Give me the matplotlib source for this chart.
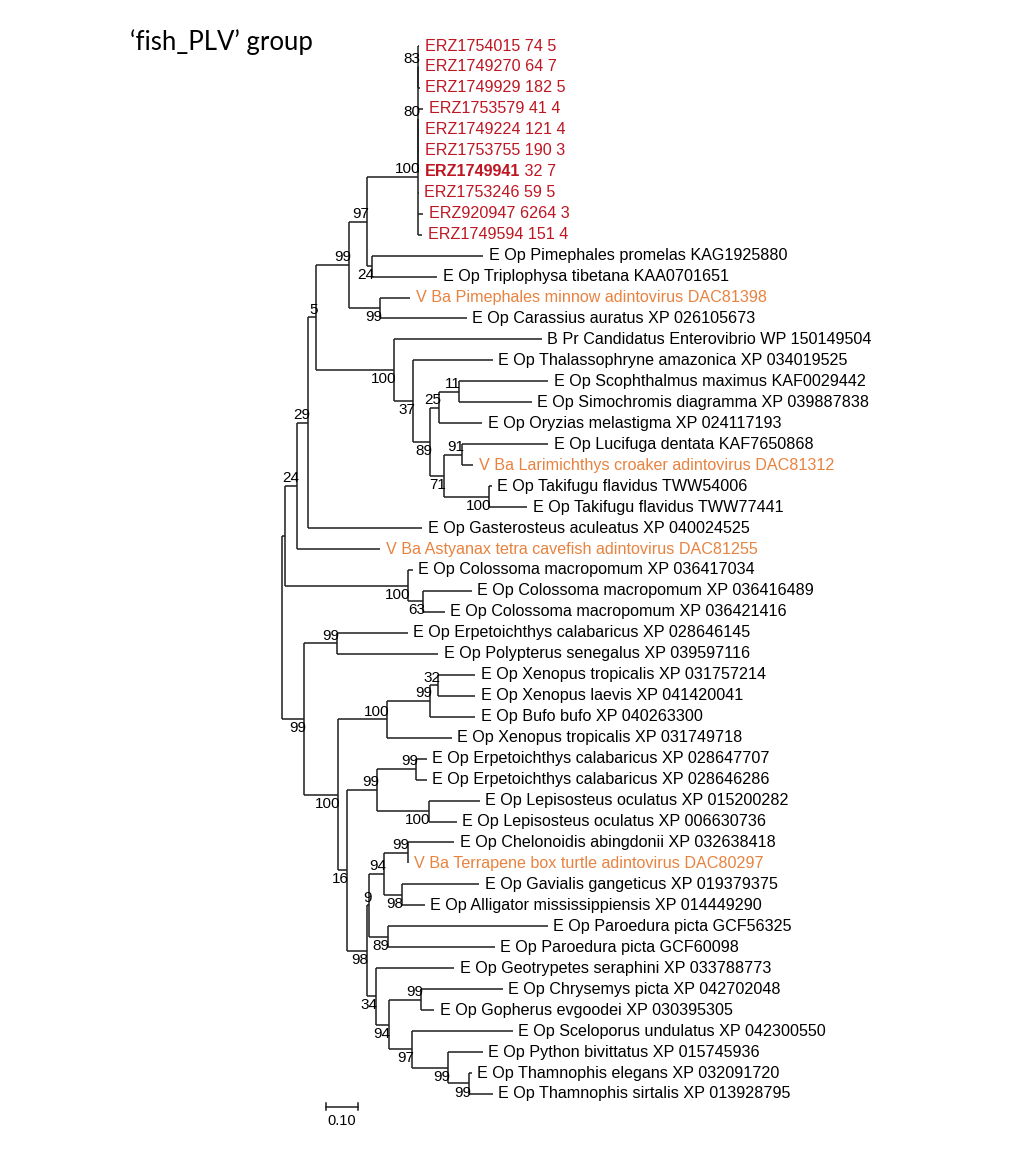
import matplotlib
matplotlib.use("Agg")
import matplotlib.pyplot as plt

# leaf labels, top to bottom (index = leaf id used in the newick pieces below)
taxa = [
    "ERZ1754015 74 5", "ERZ1749270 64 7", "ERZ1749929 182 5", "ERZ1753579 41 4",
    "ERZ1749224 121 4", "ERZ1753755 190 3", "ERZ1749941 32 7", "ERZ1753246 59 5",
    "ERZ920947 6264 3", "ERZ1749594 151 4",
    "E Op Pimephales promelas KAG1925880", "E Op Triplophysa tibetana KAA0701651",
    "V Ba Pimephales minnow adintovirus DAC81398", "E Op Carassius auratus XP 026105673",
    "B Pr Candidatus Enterovibrio WP 150149504", "E Op Thalassophryne amazonica XP 034019525",
    "E Op Scophthalmus maximus KAF0029442", "E Op Simochromis diagramma XP 039887838",
    "E Op Oryzias melastigma XP 024117193", "E Op Lucifuga dentata KAF7650868",
    "V Ba Larimichthys croaker adintovirus DAC81312", "E Op Takifugu flavidus TWW54006",
    "E Op Takifugu flavidus TWW77441", "E Op Gasterosteus aculeatus XP 040024525",
    "V Ba Astyanax tetra cavefish adintovirus DAC81255", "E Op Colossoma macropomum XP 036417034",
    "E Op Colossoma macropomum XP 036416489", "E Op Colossoma macropomum XP 036421416",
    "E Op Erpetoichthys calabaricus XP 028646145", "E Op Polypterus senegalus XP 039597116",
    "E Op Xenopus tropicalis XP 031757214", "E Op Xenopus laevis XP 041420041",
    "E Op Bufo bufo XP 040263300", "E Op Xenopus tropicalis XP 031749718",
    "E Op Erpetoichthys calabaricus XP 028647707", "E Op Erpetoichthys calabaricus XP 028646286",
    "E Op Lepisosteus oculatus XP 015200282", "E Op Lepisosteus oculatus XP 006630736",
    "E Op Chelonoidis abingdonii XP 032638418", "V Ba Terrapene box turtle adintovirus DAC80297",
    "E Op Gavialis gangeticus XP 019379375", "E Op Alligator mississippiensis XP 014449290",
    "E Op Paroedura picta GCF56325", "E Op Paroedura picta GCF60098",
    "E Op Geotrypetes seraphini XP 033788773", "E Op Chrysemys picta XP 042702048",
    "E Op Gopherus evgoodei XP 030395305", "E Op Sceloporus undulatus XP 042300550",
    "E Op Python bivittatus XP 015745936", "E Op Thamnophis elegans XP 032091720",
    "E Op Thamnophis sirtalis XP 013928795",
]
highlight = 6          # ERZ1749941, id part in bold
scale_len = 0.10

# tree in newick pieces (leaf ids, branch lengths, bootstrap as node name)
erz = "(((0:0.003,1:0.003,2:0.006)83:0,3:0.016,4:0.003,5:0.003,6:0.003)80:0,7:0.002,8:0.016,9:0.014)100:0.161"
pime = "(10:0.350,11:0.205)24:0.016"
minnow = "(12:0.095,13:0.274)99:0.098"
n97 = "(" + erz + "," + pime + ")97:0.057"
n99a = "(" + n97 + "," + minnow + ")99:0.104"
n11 = "(16:0.281,17:0.230)11:0.063"
n25 = "(" + n11 + ",18:0.136)25:0.028"
n91 = "(19:0.271,20:0.035)91:0.057"
fugu = "(21:0.009,22:0.120)100:0.142"
n71 = "(" + n91 + "," + fugu + ")71:0.044"
n89 = "(" + n25 + "," + n71 + ")89:0.054"
n37 = "(15:0.252," + n89 + ")37:0.060"
bpr = "(14:0.467," + n37 + ")100:0.246"
n5 = "(" + n99a + "," + bpr + ")5:0.025"
n29 = "(" + n5 + ",23:0.360)29:0.035"
n24 = "(" + n29 + ",24:0.262)24:0.038"
colossoma = "(25:0.016,(26:0.155,27:0.069)63:0.047)100:0.388"
upper = "(" + n24 + "," + colossoma + "):0.009"

polyp = "(28:0.224,29:0.319)99:0.104"
n32 = "(30:0.117,31:0.117)32:0.025"
frogs = "((" + n32 + ",32:0.142)99:0.136,33:0.205)100:0.155"
erp = "(34:0.035,35:0.035)99:0.123"
lep = "(36:0.161,37:0.088)100:0.164"
n99el = "(" + erp + "," + lep + ")99:0.095"
turtle = "(38:0.148,39:0.003)99:0.073"
croc = "(40:0.246,41:0.073)98:0.054"
n94 = "(" + turtle + "," + croc + ")94:0.047"
gecko = "(42:0.505,43:0.338)89:0.057"
n9 = "(" + n94 + "," + gecko + ")9:0.009"
chrys = "(45:0.256,46:0.041)99:0.104"
snakes = "(48:0.110,(49:0.009,50:0.076)99:0.066)99:0.114"
n97b = "(47:0.319," + snakes + ")97:0.073"
n94b = "(" + chrys + "," + n97b + ")94:0.041"
n34 = "(44:0.249," + n94b + ")34:0.028"
n98 = "(" + n9 + "," + n34 + ")98:0.063"
n16 = "(" + n99el + "," + n98 + ")16:0.028"
n100 = "(" + frogs + "," + n16 + ")100:0.107"
lower = "(" + polyp + "," + n100 + ")99:0.069"
newick = "(" + upper + "," + lower + ");"


def parse(s):
    pos = 0

    def node():
        nonlocal pos
        kids = []
        if s[pos] == "(":
            pos += 1
            kids.append(node())
            while s[pos] == ",":
                pos += 1
                kids.append(node())
            pos += 1
        start = pos
        while s[pos] not in ":,);":
            pos += 1
        name = s[start:pos]
        length = 0.0
        if s[pos] == ":":
            pos += 1
            start = pos
            while s[pos] not in ",);":
                pos += 1
            length = float(s[start:pos])
        return {"name": name, "len": length, "kids": kids}

    return node()


def layout(nd, x0, counter):
    nd["x"] = x0 + nd["len"]
    if not nd["kids"]:
        nd["y"] = counter[0]
        counter[0] += 1
    else:
        for k in nd["kids"]:
            layout(k, nd["x"], counter)
        nd["y"] = (nd["kids"][0]["y"] + nd["kids"][-1]["y"]) / 2.0


tree = parse(newick)
tree["len"] = 0.0
layout(tree, 0.0, [0])

fig = plt.figure(figsize=(10.24, 11.6), dpi=100)
ax = fig.add_axes([0, 0, 1, 1])
ax.axis("off")
ax.set_xlim(-0.8896, 2.3407)
ax.set_ylim(53.15, -2.195)

lc = "#1e1e1e"
lw = 1.1
red = "#BE1622"
orange = "#E8823F"
leaf_font = "Liberation Sans"
leaf_size = 11.6


def draw(nd, first=True, is_root=False):
    if nd["kids"]:
        ax.plot([nd["x"], nd["x"]], [nd["kids"][0]["y"], nd["kids"][-1]["y"]],
                color=lc, lw=lw, solid_capstyle="butt")
        for i, k in enumerate(nd["kids"]):
            ax.plot([nd["x"], k["x"]], [k["y"], k["y"]], color=lc, lw=lw,
                    solid_capstyle="butt")
            draw(k, first=(i == 0))
        if nd["name"] and not is_root:
            dy = 5.5 if first else -6.5
            ax.annotate(nd["name"], (nd["x"], nd["y"]), xytext=(1.5, dy),
                        textcoords="offset points", ha="right", va="center",
                        fontsize=11, family=leaf_font, color="black")
    else:
        idx = int(nd["name"])
        label = taxa[idx]
        if label.startswith("ERZ"):
            col = red
        elif label.startswith("V Ba"):
            col = orange
        else:
            col = "black"
        if idx == highlight:
            head, tail = label.split(" ", 1)
            t = ax.annotate(head, (nd["x"], nd["y"]), xytext=(4, 0),
                            textcoords="offset points", ha="left", va="center",
                            fontsize=leaf_size, family=leaf_font, color=col,
                            fontweight="bold")
            ax.annotate(" " + tail, xy=(1, 0.5), xycoords=t, ha="left",
                        va="center", fontsize=leaf_size, family=leaf_font, color=col)
        else:
            ax.annotate(label, (nd["x"], nd["y"]), xytext=(4, 0),
                        textcoords="offset points", ha="left", va="center",
                        fontsize=leaf_size, family=leaf_font, color=col)


draw(tree, is_root=True)

# scale bar
sb_x, sb_y = 0.139, 50.6
ax.plot([sb_x, sb_x + scale_len], [sb_y, sb_y], color=lc, lw=lw)
for xx in (sb_x, sb_x + scale_len):
    ax.plot([xx, xx], [sb_y - 0.18, sb_y + 0.18], color=lc, lw=lw)
ax.text(sb_x + scale_len / 2, sb_y + 0.7, "%.2f" % scale_len, ha="center",
        va="center", fontsize=10.5, family=leaf_font)

fig.text(130 / 1024, 1 - 42 / 1160, "\u2018fish_PLV\u2019 group", fontsize=18.5,
         family="Lato", va="center", ha="left")

fig.savefig("out.png", dpi=100)
